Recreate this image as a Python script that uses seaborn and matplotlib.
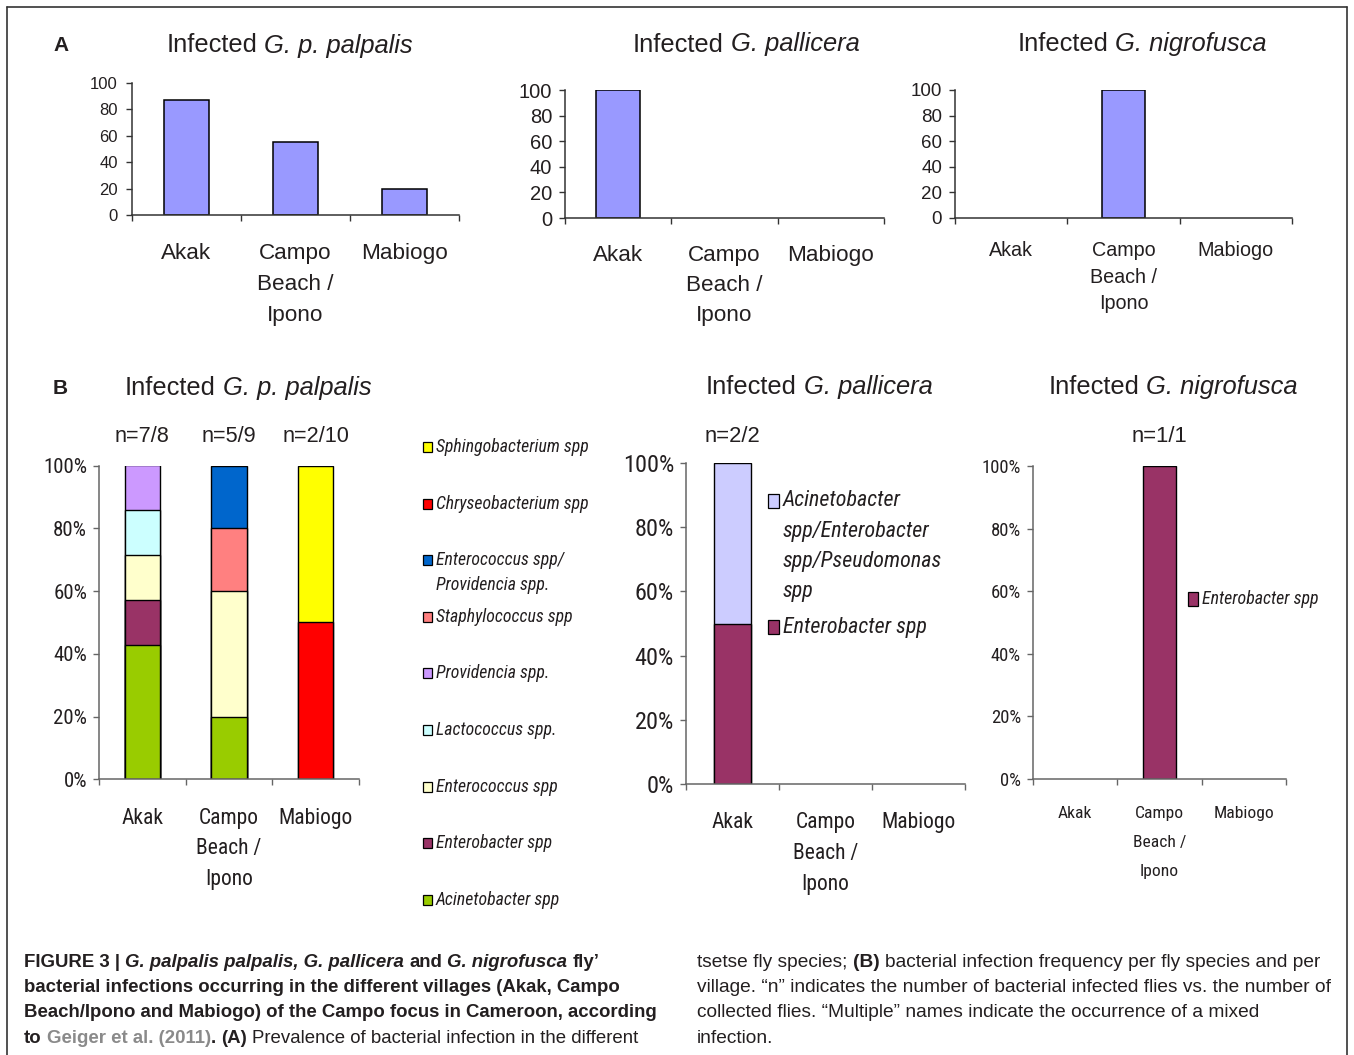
import matplotlib
matplotlib.use("Agg")
import numpy as np
import pandas as pd
import matplotlib.pyplot as plt
from matplotlib import font_manager as fm
from matplotlib.patches import Rectangle
from matplotlib.lines import Line2D
import seaborn as sns

sns.set_style("white")
plt.rcParams["font.family"] = ["Liberation Sans", "DejaVu Sans"]

W, H = 1354, 1055
INK = "#231f20"

# pick a condensed face for the Excel "Arial Narrow" parts, if one is installed
narrow_face, NF = None, 0.82
for cand in ["Liberation Sans Narrow", "Arial Narrow", "Roboto Condensed",
             "Open Sans Condensed", "DejaVu Sans Condensed"]:
    try:
        fm.findfont(fm.FontProperties(family=cand), fallback_to_default=False)
        narrow_face, NF = cand, 1.0
        break
    except ValueError:
        pass
NARROW = [narrow_face, "Liberation Sans"] if narrow_face else ["Liberation Sans"]
REG = ["Liberation Sans"]

# Data
villages = ["Akak", "Campo Beach / Ipono", "Mabiogo"]
village_labels = ["Akak", "Campo\nBeach /\nIpono", "Mabiogo"]

# (A) prevalence of bacterial infection (%)
prev_palpalis = [87, 55, 20]
prev_pallicera = [100, 0, 0]
prev_nigrofusca = [0, 100, 0]

# (B) infection frequency per village (%), listed bottom -> top of the stack
taxa_palpalis = ["Acinetobacter spp", "Enterobacter spp", "Enterococcus spp",
                 "Lactococcus spp.", "Providencia spp.", "Staphylococcus spp",
                 "Enterococcus spp/\nProvidencia spp.", "Chryseobacterium spp",
                 "Sphingobacterium spp"]
akak_palpalis = [42.86, 14.29, 14.29, 14.29, 14.28, 0, 0, 0, 0]
campo_palpalis = [20, 0, 40, 0, 0, 20, 20, 0, 0]
mabiogo_palpalis = [0, 0, 0, 0, 0, 0, 0, 50, 50]
colors_palpalis = ["#99cc00", "#993366", "#ffffcc", "#ccffff", "#cc99ff",
                   "#ff8080", "#0066cc", "#ff0000", "#ffff00"]
n_palpalis = ["n=7/8", "n=5/9", "n=2/10"]

taxa_pallicera = ["Enterobacter spp",
                  "Acinetobacter\nspp/Enterobacter\nspp/Pseudomonas\nspp"]
akak_pallicera = [50, 50]
campo_pallicera = [0, 0]
mabiogo_pallicera = [0, 0]
colors_pallicera = ["#993366", "#ccccff"]
n_pallicera = ["n=2/2", "", ""]

taxa_nigrofusca = ["Enterobacter spp"]
akak_nigrofusca = [0]
campo_nigrofusca = [100]
mabiogo_nigrofusca = [0]
colors_nigrofusca = ["#993366"]
n_nigrofusca = ["", "n=1/1", ""]

bar_A = "#9999ff"

fig = plt.figure(figsize=(W / 100, H / 100), dpi=100)
renderer = fig.canvas.get_renderer()


def px_axes(l, r, top, bottom):
    return fig.add_axes([l / W, 1 - bottom / H, (r - l) / W, (bottom - top) / H])


def style_axes(ax, yfs, pct, xfs, ls, xpad, family, spine, ypad):
    ax.set_xlim(-0.5, 2.5)
    ax.set_ylim(0, 100)
    ax.set_xlabel("")
    ax.set_ylabel("")
    ticks = list(range(0, 101, 20))
    ax.set_yticks(ticks)
    ax.set_yticklabels([f"{t}%" if pct else str(t) for t in ticks],
                       fontsize=yfs, family=family, color=INK)
    ax.set_xticks([0, 1, 2])
    ax.set_xticklabels(village_labels, fontsize=xfs, family=family,
                       linespacing=ls, color=INK)
    ax.set_xticks([-0.5, 0.5, 1.5, 2.5], minor=True)
    ax.tick_params(axis="x", which="major", length=0, pad=xpad, bottom=True)
    ax.tick_params(axis="x", which="minor", length=4.5, width=1, direction="out",
                   bottom=True, color=spine)
    ax.tick_params(axis="y", which="major", length=4.3, width=1, direction="out",
                   left=True, pad=ypad, color=spine)
    for s in ["top", "right"]:
        ax.spines[s].set_visible(False)
    for s in ["left", "bottom"]:
        ax.spines[s].set_color(spine)
        ax.spines[s].set_linewidth(1.1)
    ax.patch.set_alpha(0)


def simple_bars(ax, values, width):
    df = pd.DataFrame({"village": villages, "value": values})
    df = df[df.value > 0]
    sns.barplot(data=df, x="village", y="value", order=villages, color=bar_A,
                saturation=1, width=width, edgecolor="black", linewidth=1.1,
                errorbar=None, ax=ax)


def stacked_bars(ax, taxa, colors, rows, width):
    df = pd.DataFrame(rows, index=villages, columns=taxa)
    cum = df.cumsum(axis=1)
    for t, c in zip(reversed(taxa), reversed(colors)):
        sub = pd.DataFrame({"village": villages, "top": cum[t].values,
                            "val": df[t].values})
        sub = sub[sub.val > 0]
        if sub.empty:
            continue
        sns.barplot(data=sub, x="village", y="top", order=villages, color=c,
                    saturation=1, width=width, edgecolor="black", linewidth=1.0,
                    errorbar=None, ax=ax)


def measure(s, size, **kw):
    t = fig.text(0, 0, s, fontsize=size, **kw)
    w = t.get_window_extent(renderer).width
    t.remove()
    return w


def space_width(size, **kw):
    return measure("a a", size, **kw) - measure("aa", size, **kw)


def run_line(x, y, parts, size, draw=True):
    for s, kw in parts:
        lead = len(s) - len(s.lstrip(" "))
        trail = len(s) - len(s.rstrip(" "))
        core = s.strip(" ")
        sw = space_width(size, **kw)
        x += lead * sw
        if draw:
            fig.text(x / W, 1 - y / H, core, fontsize=size, va="baseline", **kw)
        x += measure(core, size, **kw) + trail * sw
    return x


def centered_title(cx, y, species, size=18.4):
    parts = [("Infected ", {"color": INK}), (species, {"color": INK, "style": "italic"})]
    w = run_line(0, y, parts, size, draw=False)
    run_line(cx - w / 2, y, parts, size)


def legend_item(x, y, color, lines, size, box, step):
    bw, bh = box
    fig.add_artist(Rectangle((x / W, 1 - (y + bh / 2) / H), bw / W, bh / H,
                             transform=fig.transFigure, facecolor=color,
                             edgecolor="black", linewidth=0.9))
    for i, line in enumerate(lines.split("\n")):
        fig.text((x + bw + 4) / W, 1 - (y + i * step) / H, line, fontsize=size,
                 family=NARROW, style="italic", va="center", color=INK)


# ---------- panel A ----------
axA1 = px_axes(132, 459, 83, 215)
simple_bars(axA1, prev_palpalis, 0.42)
style_axes(axA1, 12, False, 16.2, 1.6, 20.5, REG, "#333333", 5.8)

axA2 = px_axes(565, 884, 90, 218)
simple_bars(axA2, prev_pallicera, 0.415)
style_axes(axA2, 14.5, False, 16.2, 1.55, 19.5, REG, "#333333", 5.0)

axA3 = px_axes(955, 1292, 90, 218)
simple_bars(axA3, prev_nigrofusca, 0.39)
style_axes(axA3, 13.5, False, 14.2, 1.5, 16.8, REG, "#333333", 5.0)

centered_title(289.5, 52.5, "G. p. palpalis")
centered_title(746, 51.5, "G. pallicera")
centered_title(1142, 51, "G. nigrofusca")
fig.text(53 / W, 1 - 51 / H, "A", fontsize=15, weight="bold", color=INK, va="baseline")

# ---------- panel B ----------
axB1 = px_axes(99, 359, 465.5, 779.3)
stacked_bars(axB1, taxa_palpalis, colors_palpalis,
             [akak_palpalis, campo_palpalis, mabiogo_palpalis], 0.41)
style_axes(axB1, 15 * NF, True, 15.5 * NF, 1.6 / NF ** 0.5, 20.5, NARROW, "#666666", 4.3)
for i, n in enumerate(n_palpalis):
    axB1.text(i, 109.3, n, ha="center", va="center", fontsize=15.6, color=INK, clip_on=False)

axB2 = px_axes(686, 965, 463, 784)
stacked_bars(axB2, taxa_pallicera, colors_pallicera,
             [akak_pallicera, campo_pallicera, mabiogo_pallicera], 0.40)
style_axes(axB2, 17.5 * NF, True, 15.5 * NF, 1.62 / NF ** 0.5, 20.3, NARROW, "#666666", 4.3)
for i, n in enumerate(n_pallicera):
    axB2.text(i, 108.1, n, ha="center", va="center", fontsize=15.8, color=INK, clip_on=False)

axB3 = px_axes(1033, 1286, 466, 779)
stacked_bars(axB3, taxa_nigrofusca, colors_nigrofusca,
             [akak_nigrofusca, campo_nigrofusca, mabiogo_nigrofusca], 0.40)
style_axes(axB3, 13.4 * NF, True, 12.6 * NF, 2.15 / NF ** 0.5, 19.6, NARROW, "#666666", 4.3)
for i, n in enumerate(n_nigrofusca):
    axB3.text(i, 109.3, n, ha="center", va="center", fontsize=15.8, color=INK, clip_on=False)

centered_title(248, 395, "G. p. palpalis")
centered_title(819, 394, "G. pallicera")
centered_title(1173, 394, "G. nigrofusca")
fig.text(53 / W, 1 - 394 / H, "B", fontsize=15, weight="bold", color=INK, va="baseline")

# legends
for k, (t, c) in enumerate(zip(reversed(taxa_palpalis), reversed(colors_palpalis))):
    legend_item(423, 447 + 56.6 * k, c, t, 12.8 * NF, (9, 10), 25)
legend_item(768, 501, colors_pallicera[1], taxa_pallicera[1], 15.8 * NF, (11, 14), 30)
legend_item(768, 627, colors_pallicera[0], taxa_pallicera[0], 15.8 * NF, (11, 14), 30)
legend_item(1188, 599, colors_nigrofusca[0], taxa_nigrofusca[0], 12.85 * NF, (10, 14), 30)

# ---------- caption ----------
B = {"weight": "bold", "color": INK}
BI = {"weight": "bold", "style": "italic", "color": INK}
R = {"color": INK}
G = {"weight": "bold", "color": "#8a8a8a"}
left = [
    [("FIGURE 3 | ", B), ("G. palpalis palpalis, G. pallicera", BI), (" and ", B),
     ("G. nigrofusca", BI), (" fly’", B)],
    [("bacterial infections occurring in the different villages (Akak, Campo", B)],
    [("Beach/Ipono and Mabiogo) of the Campo focus in Cameroon, according", B)],
    [("to ", B), ("Geiger et al. (2011)", G), (". ", B), ("(A)", B),
     (" Prevalence of bacterial infection in the different", R)],
]
right = [
    [("tsetse fly species; ", R), ("(B)", B),
     (" bacterial infection frequency per fly species and per", R)],
    [("village. “n” indicates the number of bacterial infected flies vs. the number of", R)],
    [("collected flies. “Multiple” names indicate the occurrence of a mixed", R)],
    [("infection.", R)],
]
baselines = [967, 992, 1017, 1043]
for parts, yb in zip(left, baselines):
    run_line(24, yb, parts, 13.45)
for parts, yb in zip(right, baselines):
    run_line(697, yb, parts, 13.75)

# frame around the figure
frame = dict(color="#333333", linewidth=1.2, transform=fig.transFigure)
fig.add_artist(Line2D([7 / W, 1347 / W], [1 - 7 / H, 1 - 7 / H], **frame))
fig.add_artist(Line2D([7 / W, 7 / W], [1 - 7 / H, 0], **frame))
fig.add_artist(Line2D([1347 / W, 1347 / W], [1 - 7 / H, 0], **frame))

fig.savefig("out.png", dpi=100, facecolor="white")
